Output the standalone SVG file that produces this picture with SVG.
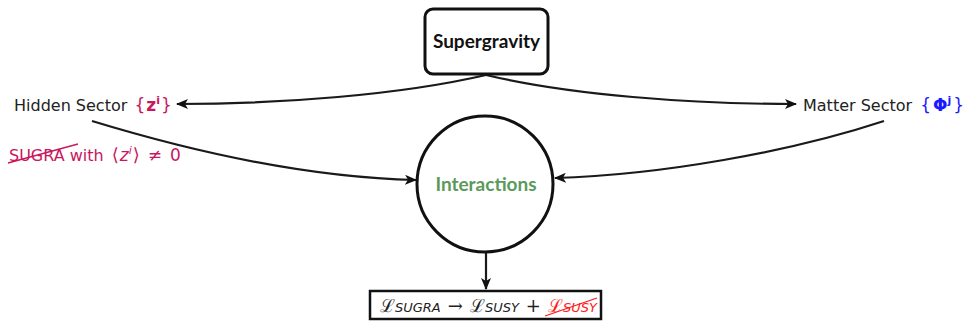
<svg xmlns="http://www.w3.org/2000/svg" width="965" height="322" viewBox="0 0 965 322">
<style>
.lbl{font-family:"DejaVu Sans",sans-serif;font-size:16px;fill:#222}
.node{fill:#fff;stroke:#111;stroke-width:3}
.con{fill:none;stroke:#1a1a1a;stroke-width:2.2}
.mag{fill:#c8175e}
.blu{fill:#1a1aff}
.nt{font-family:Lato,sans-serif;font-weight:bold;font-size:19px}
.sub{font-family:"DejaVu Sans",sans-serif;font-style:italic;font-size:13px}
</style>
<defs>
<marker id="ah" viewBox="0 0 12 10" refX="11" refY="5" markerWidth="12" markerHeight="10" markerUnits="userSpaceOnUse" orient="auto">
<path d="M0,0 L12,5 L0,10 L3,5 Z" fill="#111"/>
</marker>
</defs>
<g id="connectors">
<path class="con" d="M486,75 C400,95 280,104 177,104" marker-end="url(#ah)"/>
<path class="con" d="M486,75 C570,95 690,104 796,104" marker-end="url(#ah)"/>
<path class="con" d="M92,121 C220,160 330,178 416,180" marker-end="url(#ah)"/>
<path class="con" d="M884,121 C790,152 660,175 555,178" marker-end="url(#ah)"/>
<path class="con" d="M486,253 L486,289" marker-end="url(#ah)"/>
</g>
<g id="supergravity">
<rect class="node" x="425" y="9" width="123" height="65" rx="8"/>
<text class="nt" x="486.5" y="48" text-anchor="middle" fill="#111">Supergravity</text>
</g>
<g id="interactions">
<circle class="node" cx="485" cy="184" r="68"/>
<text class="nt" x="486" y="191" text-anchor="middle" fill="#5a9a5a">Interactions</text>
</g>
<g id="hidden">
<text class="lbl" x="14" y="111">Hidden Sector <tspan class="mag" dx="2" font-size="17">{<tspan font-weight="bold" dx="1">z</tspan><tspan font-size="11" dy="-7" font-weight="bold">i</tspan><tspan dy="7" dx="1">}</tspan></tspan></text>
<text class="lbl" x="9" y="161" style="fill:#c8175e">SUGRA with <tspan dx="3" font-size="18">⟨</tspan><tspan font-style="italic" font-size="17" dx="1">z</tspan><tspan font-size="11" dy="-7" font-style="italic">i</tspan><tspan dy="7" dx="1" font-size="18">⟩</tspan><tspan dx="8" font-size="17">≠</tspan><tspan dx="8" font-size="17">0</tspan></text>
<line x1="8" y1="163" x2="78" y2="144" stroke="#c8175e" stroke-width="1.3"/>
</g>
<g id="matter">
<text class="lbl" x="803" y="111">Matter Sector <tspan class="blu" dx="3" font-size="17">{<tspan font-weight="bold" dx="2">Φ</tspan><tspan font-size="11" dy="-7" font-weight="bold">j</tspan><tspan dy="7" dx="2">}</tspan></tspan></text>
</g>
<g id="lagrangian">
<rect x="370" y="291" width="231" height="28" fill="#fff" stroke="#111" stroke-width="2.5"/>
<text x="380" y="312" style="font-family:'DejaVu Serif',serif;font-size:18px;fill:#222">ℒ<tspan class="sub">SUGRA</tspan><tspan dx="7">→</tspan><tspan dx="7">ℒ</tspan><tspan class="sub">SUSY</tspan><tspan dx="7">+</tspan><tspan dx="7" fill="#ff1a1a">ℒ<tspan class="sub">SUSY</tspan></tspan></text>
<line x1="545" y1="316" x2="597" y2="298" stroke="#ff1a1a" stroke-width="1.3"/>
</g>
</svg>
